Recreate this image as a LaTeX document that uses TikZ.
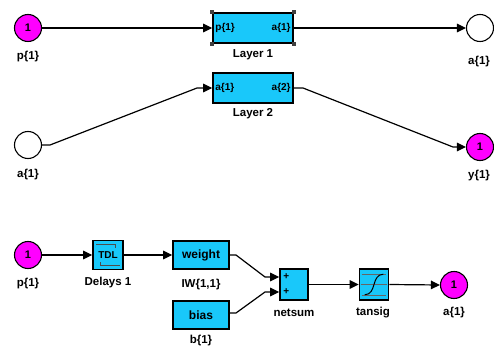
\documentclass[tikz,border=0pt]{standalone}
\usepackage{fontspec}
\setmainfont{Liberation Sans}
\usetikzlibrary{arrows.meta,calc}
\definecolor{blkfill}{RGB}{25,200,250}
\definecolor{portmag}{RGB}{255,0,255}

\begin{document}
\begin{tikzpicture}[x=1pt,y=-1pt,
  port/.style={circle,draw=black,line width=1.1pt,minimum size=27pt,inner sep=0pt,
    font=\bfseries\fontsize{11}{11}\selectfont},
  inport/.style={port,fill=portmag},
  outport/.style={port,fill=white},
  blk/.style={draw=black,line width=1.6pt,fill=blkfill,inner sep=0pt},
  lbl/.style={font=\bfseries\fontsize{11.5}{11.5}\selectfont,inner sep=0pt},
  intxt/.style={font=\bfseries\fontsize{10}{10}\selectfont,inner sep=0pt},
  boxtxt/.style={font=\bfseries\fontsize{12}{12}\selectfont,inner sep=0pt},
  sig/.style={line width=1.2pt,-{Triangle[length=9pt,width=8.5pt]}},
  handle/.style={fill=black!75,minimum size=4.5pt,inner sep=0pt}
]
\useasboundingbox (0,0) rectangle (494,347);

% ---------- two-layer network ----------
\node[inport] (p1) at (28,28) {1};
\node[lbl] (p1lab) at (28,57) {p\{1\}};

\node[blk,minimum width=80pt,minimum height=30pt] (L1) at (253,28) {};
\node[intxt,anchor=west] (L1in) at ($(L1.west)+(3,0)$) {p\{1\}};
\node[intxt,anchor=east] (L1out) at ($(L1.east)+(-3,0)$) {a\{1\}};
\node[lbl] (L1lab) at (253,55) {Layer 1};
\foreach \c in {north west,north east,south west,south east}
  \node[handle] at (L1.\c) {};

\node[outport] (a1o) at (480,28) {};
\node[lbl] (a1olab) at (479,62) {a\{1\}};

\node[blk,minimum width=80pt,minimum height=30pt] (L2) at (253,88) {};
\node[intxt,anchor=west] (L2in) at ($(L2.west)+(3,0)$) {a\{1\}};
\node[intxt,anchor=east] (L2out) at ($(L2.east)+(-3,0)$) {a\{2\}};
\node[lbl] (L2lab) at (253,114) {Layer 2};

\node[outport] (a1i) at (28,145) {};
\node[lbl] (a1ilab) at (28,175) {a\{1\}};

\node[inport] (y1) at (480,147) {1};
\node[lbl] (y1lab) at (479,176) {y\{1\}};

\coordinate (b1) at (50,145);
\coordinate (b2) at (197,88);
\coordinate (b3) at (303,88);
\coordinate (b4) at (453,147);

\draw[sig] (p1.east) -- (L1.west);
\draw[sig] (L1.east) -- (a1o.west);
\draw[sig] (a1i.east) -- (b1) -- (b2) -- (L2.west);
\draw[sig] (L2.east) -- (b3) -- (b4) -- (y1.west);

% ---------- layer detail ----------
\node[inport] (p1b) at (28,255) {1};
\node[lbl] (p1blab) at (28,284) {p\{1\}};

\node[blk,minimum width=30pt,minimum height=29pt] (tdl) at (108,255) {};
\draw[black!70,line width=0.7pt]
  ($(tdl.north west)+(4,5)$) -- ($(tdl.north east)+(-8,5)$) -- ($(tdl.north east)+(-8,8)$);
\draw[black!70,line width=0.7pt]
  ($(tdl.south east)+(-4,-5)$) -- ($(tdl.south west)+(8,-5)$) -- ($(tdl.south west)+(8,-8)$);
\node[intxt] (tdltxt) at (tdl.center) {TDL};
\node[lbl] (tdllab) at (108,283) {Delays 1};

\node[blk,minimum width=56pt,minimum height=28pt] (w) at (201,255) {};
\node[boxtxt] (wtxt) at (w.center) {weight};
\node[lbl] (wlab) at (201,285) {IW\{1,1\}};

\node[blk,minimum width=56pt,minimum height=28pt] (bs) at (201,315) {};
\node[boxtxt] (btxt) at (bs.center) {bias};
\node[lbl] (blab) at (201,341) {b\{1\}};

\node[blk,minimum width=28pt,minimum height=31pt] (ns) at (294,284.5) {};
\coordinate (ns1) at ($(ns.west)+(0,-7.5)$);
\coordinate (ns2) at ($(ns.west)+(0,7.5)$);
\node[intxt] (plus1) at ($(ns1)+(7,0)$) {+};
\node[intxt] (plus2) at ($(ns2)+(7,0)$) {+};
\node[lbl] (nslab) at (294,313) {netsum};

\node[blk,minimum width=29pt,minimum height=31pt] (ts) at (374,284.5) {};
\draw[black!60,line width=0.6pt] ($(ts.west)+(2,0)$) -- ($(ts.east)+(-2,0)$);
\draw[black!60,line width=0.6pt] ($(ts.north west)+(3,6)$) -- ($(ts.north east)+(-3,6)$);
\draw[black!60,line width=0.6pt] ($(ts.south west)+(3,-6)$) -- ($(ts.south east)+(-3,-6)$);
\draw[black,line width=1pt] ($(ts.south west)+(6,-6)$)
  .. controls ($(ts.center)+(3,10)$) and ($(ts.center)+(-3,-10)$) .. ($(ts.north east)+(-6,6)$);
\node[lbl] (tslab) at (373,313) {tansig};

\node[inport] (a1b) at (454,285) {1};
\node[lbl] (a1blab) at (454,313) {a\{1\}};

\coordinate (w1) at (236,255);
\coordinate (w2) at (265,277);
\coordinate (c1) at (236,313);
\coordinate (c2) at (265,292);

\draw[sig] (p1b.east) -- (tdl.west);
\draw[sig] (tdl.east) -- (w.west);
\draw[sig] (w.east) -- (w1) -- (w2) -- (ns1);
\draw[sig] (bs.east |- c1) -- (c1) -- (c2) -- (ns2);
\draw[sig] (ns.east) -- (ts.west);
\draw[sig] (ts.east) -- (a1b.west);
\end{tikzpicture}
\end{document}
